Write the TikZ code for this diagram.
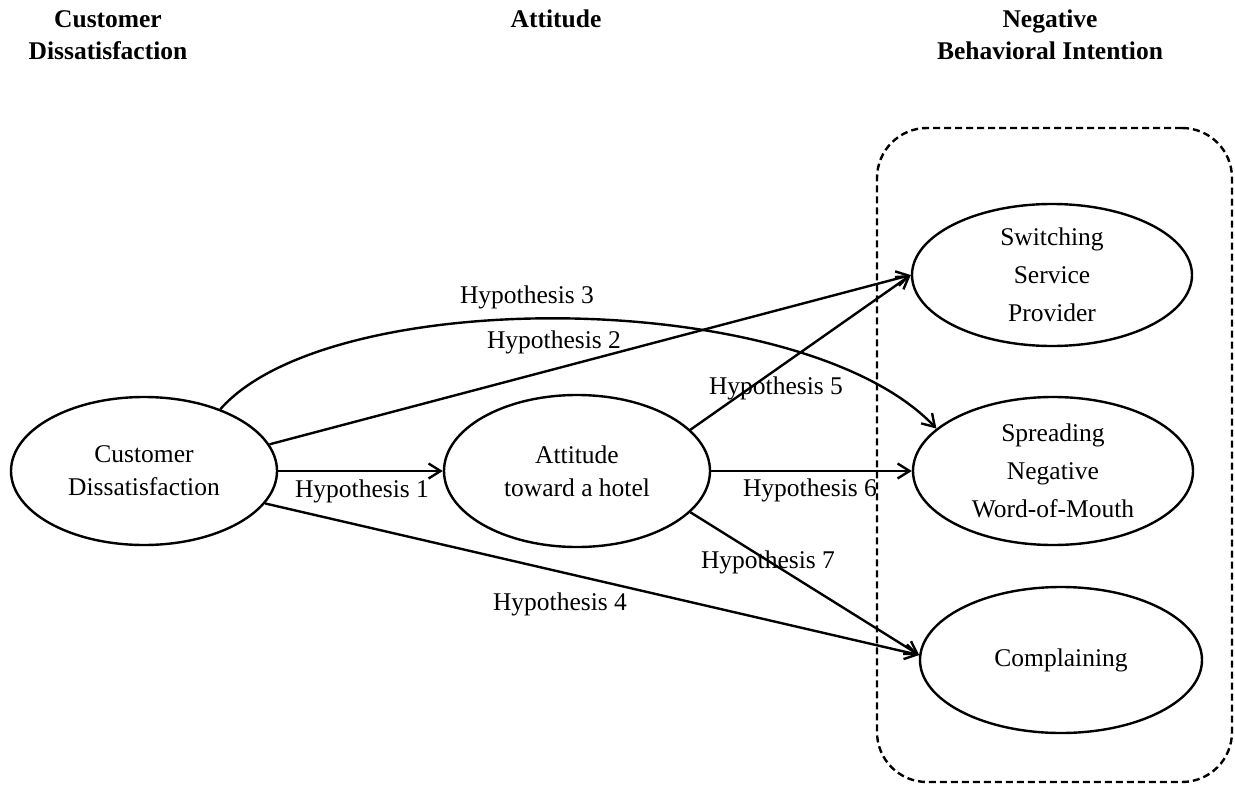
\documentclass[tikz,border=0pt]{standalone}
\usepackage{fontspec}
\setmainfont{Liberation Serif}
\usetikzlibrary{shapes.geometric,arrows.meta}
\begin{document}
\begin{tikzpicture}[x=1pt,y=-1pt,
  construct/.style={ellipse,draw,line width=2.4pt,inner sep=0pt,align=center,
    font=\fontsize{25.5}{33}\selectfont},
  outcome/.style={construct,font=\fontsize{25.5}{38}\selectfont},
  path arrow/.style={line width=2.4pt,
    -{Straight Barb[length=12pt,width=15pt,line width=2.4pt]}},
  hyp/.style={font=\fontsize{25.5}{30}\selectfont,inner sep=0pt},
  heading/.style={font=\bfseries\fontsize{25.5}{32}\selectfont,align=center,inner sep=0pt},
  group/.style={draw,line width=2.4pt,dash pattern=on 7pt off 4pt,rounded corners=50pt}]
\useasboundingbox (0,0) rectangle (1235,792);

% column headings
\node[heading] (h1) at (108,35) {Customer\\Dissatisfaction};
\node[heading] (h2) at (556,19) {Attitude};
\node[heading] (h3) at (1050,35) {Negative\\Behavioral Intention};

% grouping frame for the behavioural intentions
\node[group,minimum width=355pt,minimum height=654pt] (grp) at (1054.5,455) {};

% constructs
\node[construct,minimum width=266pt,minimum height=148pt] (cd) at (144,471) {Customer\\Dissatisfaction};
\node[construct,minimum width=266pt,minimum height=152pt] (att) at (577,471) {Attitude\\toward a hotel};
\node[outcome,minimum width=280pt,minimum height=142pt] (sw) at (1052,275) {Switching\\Service\\Provider};
\node[outcome,minimum width=280pt,minimum height=148pt] (sp) at (1053,471) {Spreading\\Negative\\Word-of-Mouth};
\node[outcome,minimum width=282pt,minimum height=146pt] (cm) at (1061,660) {Complaining};

% hypothesised paths
\draw[path arrow] (cd.east) -- (att.west);
\draw[path arrow] (cd.12) -- (sw.west);
\draw[path arrow] (cd.39) .. controls +(110,-125) and +(-135,-142) .. (sp.160);
\draw[path arrow] (cd.-15) -- (cm.178);
\draw[path arrow] (att.20) -- (sw.west);
\draw[path arrow] (att.east) -- (sp.west);
\draw[path arrow] (att.-20) -- (cm.178);

% path labels
\node[hyp] (l1) at (362,491) {Hypothesis 1};
\node[hyp] (l2) at (554,342) {Hypothesis 2};
\node[hyp] (l3) at (527,297) {Hypothesis 3};
\node[hyp] (l4) at (560,604) {Hypothesis 4};
\node[hyp] (l5) at (776,388) {Hypothesis 5};
\node[hyp] (l6) at (810,490) {Hypothesis 6};
\node[hyp] (l7) at (768,562) {Hypothesis 7};
\end{tikzpicture}
\end{document}
